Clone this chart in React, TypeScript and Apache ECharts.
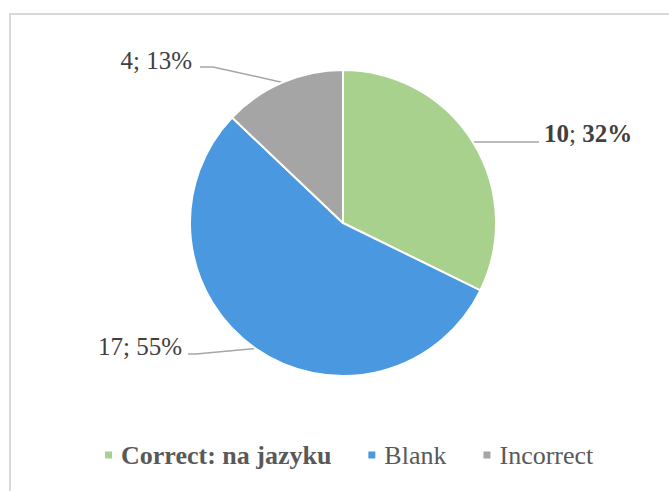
import React, { useEffect, useRef } from "react";
import * as echarts from "echarts";

const categories = ["Correct: na jazyku", "Blank", "Incorrect"];
const values = [10, 17, 4];
const colors = ["#A9D18E", "#4A99E0", "#A5A5A5"];
const boldLabel = [true, false, false];

const FONT = "Liberation Serif, Times New Roman, serif";

export default function App() {
  const ref = useRef<HTMLDivElement>(null);
  useEffect(() => {
    if (!ref.current) return;
    const chart = echarts.init(ref.current, undefined, { renderer: "svg" });
    const data = categories.map((name, i) => ({
      name,
      value: values[i],
      itemStyle: { color: colors[i] },
      label: {
        formatter: boldLabel[i] ? "{b|{c}}; {b|{d}%}" : "{c}; {d}%",
      },
    }));
    chart.setOption({
      animation: false,
      backgroundColor: "#ffffff",
      textStyle: { fontFamily: FONT },
      graphic: [
        {
          type: "rect",
          shape: { x: 10, y: 14, width: 720, height: 520 },
          style: { fill: "none", stroke: "#d9d9d9", lineWidth: 2 },
          silent: true,
        },
      ],
      legend: {
        left: 103,
        top: 442,
        padding: 0,
        icon: "rect",
        itemWidth: 9,
        itemHeight: 9,
        itemGap: 35,
        textStyle: {
          fontFamily: FONT,
          fontSize: 26,
          color: "#595959",
          lineHeight: 26,
          padding: [0, 0, 0, 3],
        },
        data: categories.map((name, i) => ({
          name,
          textStyle: { fontWeight: boldLabel[i] ? "bold" : "normal" },
        })),
      },
      series: [
        {
          type: "pie",
          center: [343, 223],
          radius: 153,
          startAngle: 90,
          clockwise: true,
          avoidLabelOverlap: false,
          percentPrecision: 0,
          itemStyle: { borderColor: "#ffffff", borderWidth: 2 },
          emphasis: { disabled: true },
          label: {
            show: true,
            position: "outside",
            fontFamily: FONT,
            fontSize: 25,
            color: "#404040",
            rich: {
              b: {
                fontFamily: FONT,
                fontSize: 25,
                fontWeight: "bold",
                color: "#404040",
              },
            },
          },
          labelLine: {
            show: true,
            length: 20,
            length2: 20,
            lineStyle: { color: "#a6a6a6", width: 1.5 },
          },
          labelLayout: (p: any) => {
            const pts = p.labelLinePoints;
            const s = pts && pts[0] ? pts[0] : [0, 0];
            const i = p.dataIndex;
            if (i === 0) {
              return {
                x: 544,
                y: 133,
                align: "left",
                verticalAlign: "middle",
                labelLinePoints: [s, [539, s[1]], [539, s[1]]],
              };
            }
            if (i === 1) {
              return {
                x: 182,
                y: 346,
                align: "right",
                verticalAlign: "middle",
                labelLinePoints: [s, [196, 354], [188, 354]],
              };
            }
            return {
              x: 192,
              y: 60,
              align: "right",
              verticalAlign: "middle",
              labelLinePoints: [s, [213, 67], [200, 67]],
            };
          },
          data,
        },
      ],
    });
    return () => chart.dispose();
  }, []);
  return (
    <div
      ref={ref}
      style={{ position: "fixed", left: 0, top: 0, width: 669, height: 491 }}
    />
  );
}
